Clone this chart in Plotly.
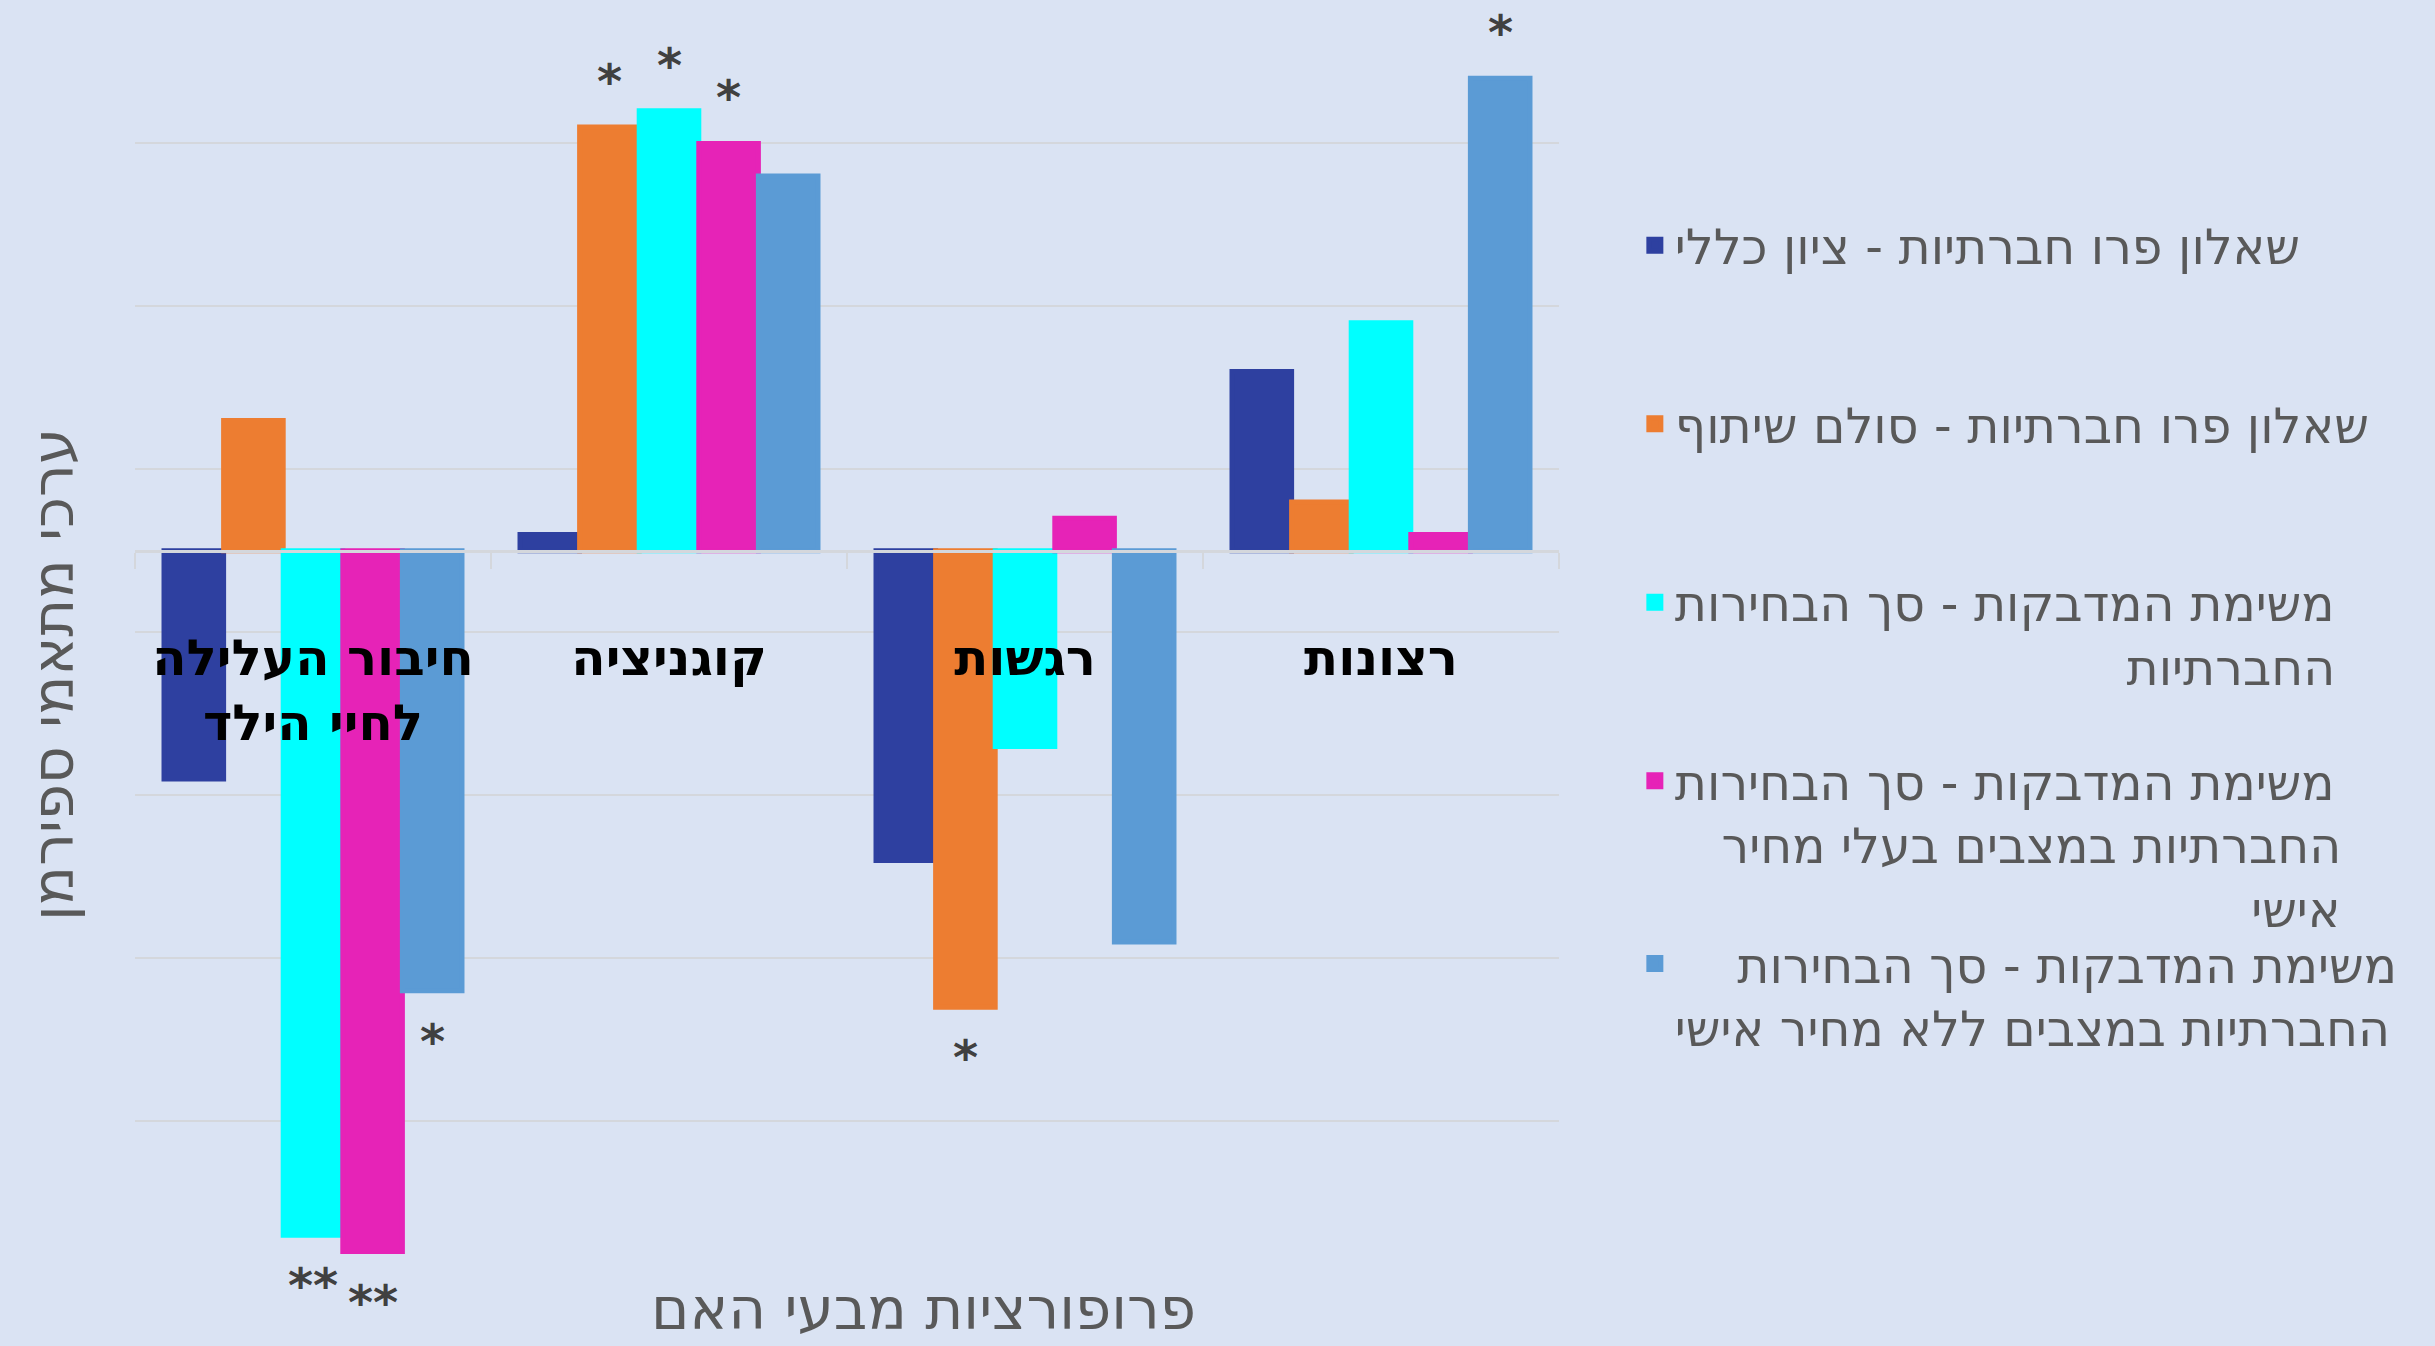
import plotly.graph_objects as go

# ---------------- data ----------------
categories = ["חיבור העלילה<br>לחיי הילד", "קוגניציה", "רגשות", "רצונות"]

series_names = [
    "שאלון פרו חברתיות - ציון כללי",
    "שאלון פרו חברתיות - סולם שיתוף",
    "משימת המדבקות - סך הבחירות החברתיות",
    "משימת המדבקות - סך הבחירות החברתיות במצבים בעלי מחיר אישי",
    "משימת המדבקות - סך הבחירות החברתיות במצבים ללא מחיר אישי",
]

# legend text as wrapped in the reference
legend_lines = [
    ["שאלון פרו חברתיות - ציון כללי"],
    ["שאלון פרו חברתיות - סולם שיתוף"],
    ["משימת המדבקות - סך הבחירות", "החברתיות"],
    ["משימת המדבקות - סך הבחירות", "החברתיות במצבים בעלי מחיר", "אישי"],
    ["משימת המדבקות - סך הבחירות", "החברתיות במצבים ללא מחיר אישי"],
]

general_score = [-0.14, 0.01, -0.19, 0.11]
cooperation = [0.08, 0.26, -0.28, 0.03]
stickers_total = [-0.42, 0.27, -0.12, 0.14]
stickers_cost = [-0.43, 0.25, 0.02, 0.01]
stickers_nocost = [-0.27, 0.23, -0.24, 0.29]

sig_general = ["", "", "", ""]
sig_cooperation = ["", "*", "*", ""]
sig_total = ["**", "*", "", ""]
sig_cost = ["**", "*", "", ""]
sig_nocost = ["*", "", "", "*"]

y_title = "ערכי מתאמי ספירמן"
x_title = "פרופורציות מבעי האם"

colors = ["#2E40A0", "#ED7D31", "#00FFFF", "#E623B7", "#5B9BD5"]

values = [general_score, cooperation, stickers_total, stickers_cost, stickers_nocost]
sigs = [sig_general, sig_cooperation, sig_total, sig_cost, sig_nocost]

# ---------------- layout constants ----------------
W, H = 2435, 1346
BG = "#DAE3F3"
FONT = "DejaVu Sans, sans-serif"
BARGAP = 0.163
Y_RANGE = [-0.4505, 0.338]
LEG_FS = 49
NBSP = "\u00a0"

# right-align shorter lines with leading spaces (RTL text in LTR svg)
pads = [
    [0],
    [0],
    [0, 29],
    [0, 3, 37],
    [4, 0],
]
# vertical centre (container fraction) of each legend entry's swatch
legend_y = [0.8177, 0.6850, 0.5523, 0.4198, 0.2838]


def legend_text(lines, pad):
    out = [NBSP * p + l for l, p in zip(lines, pad)]
    # blank lines above so the swatch lines up with the first text line
    out = [NBSP] * (len(out) - 1) + out
    return "<br>".join(out)


fig = go.Figure()
for i in range(5):
    fig.add_trace(go.Bar(
        x=categories,
        y=values[i],
        name=legend_text(legend_lines[i], pads[i]),
        legend="legend" if i == 0 else f"legend{i + 1}",
        marker=dict(color=colors[i], line=dict(width=5, color=colors[i])),
        hovertext=[series_names[i]] * len(categories),
    ))

# significance asterisks as annotations anchored to the bar tips
bw = (1 - BARGAP) / 5
annotations = []
for i in range(5):
    for c in range(len(categories)):
        s = sigs[i][c]
        if not s:
            continue
        v = values[i][c]
        pos = v >= 0
        annotations.append(dict(
            x=c + (i - 2) * bw, y=v, xref="x", yref="y",
            text=s, showarrow=False,
            yanchor="bottom" if pos else "top",
            yshift=16 if pos else -20,
            font=dict(family=FONT, size=48, color="#404040", weight="bold"),
        ))

# axis titles
annotations.append(dict(
    x=0.554, y=-0.047, xref="paper", yref="paper", text=x_title,
    showarrow=False, xanchor="center", yanchor="bottom",
    font=dict(family=FONT, size=58, color="#595959"),
))
annotations.append(dict(
    x=-0.058, y=0.475, xref="paper", yref="paper", text=y_title,
    showarrow=False, textangle=-90, xanchor="center", yanchor="middle",
    font=dict(family=FONT, size=58, color="#595959"),
))

zero_pos = (0 - Y_RANGE[0]) / (Y_RANGE[1] - Y_RANGE[0])

legend_style = dict(
    xref="container", yref="container",
    x=0.6714, xanchor="left", yanchor="middle",
    font=dict(family=FONT, size=LEG_FS, color="#595959"),
    bgcolor="rgba(0,0,0,0)", borderwidth=0,
    maxheight=1300,
)
legends = {}
for i in range(5):
    key = "legend" if i == 0 else f"legend{i + 1}"
    legends[key] = dict(legend_style, y=legend_y[i])

fig.update_layout(
    width=W, height=H,
    paper_bgcolor=BG, plot_bgcolor=BG,
    margin=dict(l=135, r=W - 1559, t=0, b=61, autoexpand=False),
    barmode="group", bargap=BARGAP, bargroupgap=0,
    font=dict(family=FONT, color="#595959"),
    showlegend=True,
    annotations=annotations,
    xaxis=dict(
        type="category",
        range=[-0.5, len(categories) - 0.5],
        anchor="free", position=zero_pos,
        showline=True, linecolor="#D4D7DC", linewidth=2.5,
        ticks="outside", tickson="boundaries", ticklen=16,
        tickcolor="#D4D7DC", tickwidth=2,
        tickfont=dict(family=FONT, size=50, color="#000000", weight="bold"),
        ticklabelstandoff=62,
        showgrid=False, zeroline=False,
        fixedrange=True,
    ),
    yaxis=dict(
        range=Y_RANGE,
        tick0=0.05, dtick=0.1,
        showticklabels=False, ticks="",
        showgrid=True, gridcolor="#D4D7DC", gridwidth=2,
        zeroline=False, showline=False,
        fixedrange=True,
    ),
    **legends,
)

fig.write_html(
    "out.html",
    config={"displayModeBar": False},
    post_script="document.body.style.margin='0';document.body.style.overflow='hidden';",
)
